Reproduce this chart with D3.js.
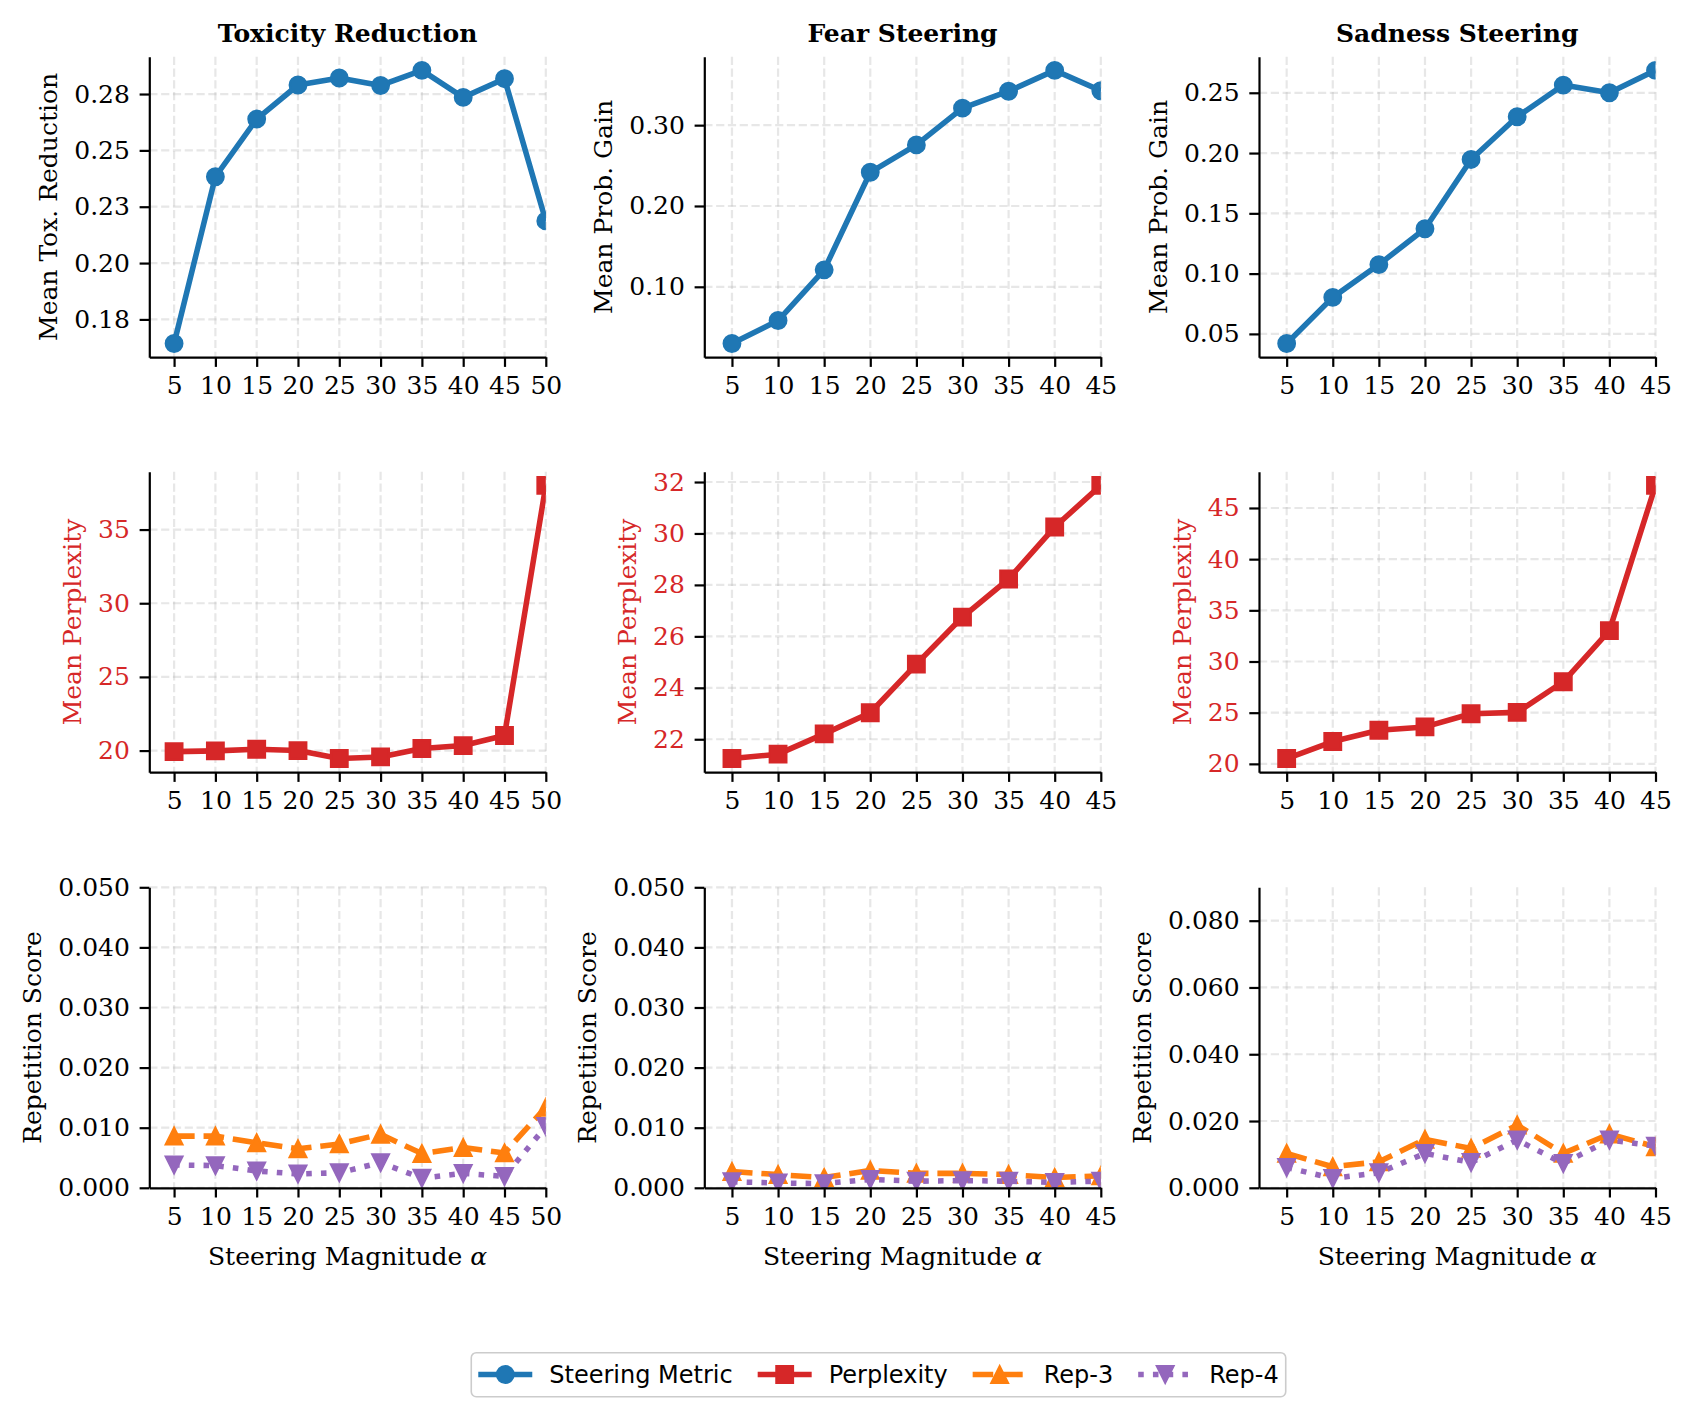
<!DOCTYPE html>
<html>
<head>
<meta charset="utf-8">
<script src="https://cdn.jsdelivr.net/npm/d3@7"></script>
<style>
  body { margin: 0; background: #fff; }
  svg text { font-family: "DejaVu Serif", serif; }
</style>
</head>
<body>
<svg id="fig" width="1694" height="1419"></svg>
<script>
// steering magnitudes
var alphasTox = [5, 10, 15, 20, 25, 30, 35, 40, 45, 50];
var alphasEmo = [5, 10, 15, 20, 25, 30, 35, 40, 45];

// steering metric (row 1)
var toxMetric  = [0.1643, 0.2383, 0.2639, 0.2790, 0.2821, 0.2788, 0.2855, 0.2735, 0.2818, 0.2187];
var fearMetric = [0.0298, 0.0583, 0.1210, 0.2417, 0.2756, 0.3210, 0.3420, 0.3678, 0.3426];
var sadMetric  = [0.0420, 0.0803, 0.1075, 0.1372, 0.1947, 0.2301, 0.2564, 0.2500, 0.2686];

// perplexity (row 2)
var toxPpl  = [19.93, 19.98, 20.09, 20.00, 19.46, 19.57, 20.14, 20.34, 21.02, 38.00];
var fearPpl = [21.25, 21.42, 22.21, 23.03, 24.92, 26.75, 28.23, 30.25, 31.87];
var sadPpl  = [20.52, 22.18, 23.28, 23.61, 24.90, 25.03, 28.02, 33.02, 47.21];

// repetition (row 3)
var toxRep3  = [0.0086, 0.0086, 0.0075, 0.0065, 0.0073, 0.0089, 0.0057, 0.0067, 0.0058, 0.0134];
var toxRep4  = [0.0038, 0.0037, 0.0028, 0.0023, 0.0025, 0.0042, 0.0016, 0.0024, 0.0019, 0.0102];
var fearRep3 = [0.0027, 0.0022, 0.0017, 0.0029, 0.0024, 0.0024, 0.0022, 0.0017, 0.0020];
var fearRep4 = [0.0010, 0.0008, 0.0007, 0.0014, 0.0011, 0.0012, 0.0011, 0.0009, 0.0011];
var sadRep3  = [0.0103, 0.0063, 0.0078, 0.0145, 0.0118, 0.0188, 0.0103, 0.0161, 0.0123];
var sadRep4  = [0.0061, 0.0028, 0.0045, 0.0103, 0.0076, 0.0143, 0.0073, 0.0143, 0.0125];

// y ticks and labels
var toxMetricTicks  = [0.175, 0.2, 0.225, 0.25, 0.275];
var toxMetricLabels = ["0.18", "0.20", "0.23", "0.25", "0.28"];
var fearMetricTicks = [0.1, 0.2, 0.3];
var sadMetricTicks  = [0.05, 0.1, 0.15, 0.2, 0.25];
var toxPplTicks  = [20, 25, 30, 35];
var fearPplTicks = [22, 24, 26, 28, 30, 32];
var sadPplTicks  = [20, 25, 30, 35, 40, 45];
var repTicks    = [0, 0.01, 0.02, 0.03, 0.04, 0.05];
var sadRepTicks = [0, 0.02, 0.04, 0.06, 0.08];
var repLimits    = [0, 0.05];
var sadRepLimits = [0, 0.09];

var titles = ["Toxicity Reduction", "Fear Steering", "Sadness Steering"];
var legendNames = ["Steering Metric", "Perplexity", "Rep-3", "Rep-4"];

var C = {metric: "#1f77b4", ppl: "#d62728", rep3: "#ff7f0e", rep4: "#9467bd"};

var svg = d3.select("svg#fig");
var colLeft = [149.3, 704.3, 1259.0],
    rowTop = [56.7, 471.7, 887.3],
    AW = 396.5, AH = 300.5,
    tickLen = 9.7, tickPad = 9.7, fs = 25, lw = 5.56, ms = 8.33, mew = 2.2, spineW = 2.2;

function pad(vals) {
    var lo = d3.min(vals), hi = d3.max(vals), m = (hi - lo) * 0.05;
    return [lo - m, hi + m];
}

function markerPath(kind, s) {
    if (kind === "^") return "M0," + (-s) + "L" + s + "," + s + "L" + (-s) + "," + s + "Z";
    if (kind === "v") return "M0," + s + "L" + s + "," + (-s) + "L" + (-s) + "," + (-s) + "Z";
    if (kind === "s") return "M" + (-s) + "," + (-s) + "H" + s + "V" + s + "H" + (-s) + "Z";
    return d3.symbol(d3.symbolCircle, Math.PI * s * s)();
}

var styles = {
    metric: {color: C.metric, marker: "o", dash: null},
    ppl: {color: C.ppl, marker: "s", dash: null},
    rep3: {color: C.rep3, marker: "^", dash: (3.7 * lw) + "," + (1.6 * lw)},
    rep4: {color: C.rep4, marker: "v", dash: (1 * lw) + "," + (1.65 * lw)}
};

var clipId = 0;
function panel(p) {
    var g = svg.append("g").attr("transform", "translate(" + p.left + "," + p.top + ")");
    var x = d3.scaleLinear().domain([2, d3.max(p.alphas)]).range([0, AW]);
    var y = d3.scaleLinear().domain(p.ydomain).range([AH, 0]);

    // grid
    var grid = g.append("g").attr("stroke", "#b0b0b0").attr("stroke-opacity", 0.3)
        .attr("stroke-width", 2.2).attr("stroke-dasharray", "8.2,3.6");
    grid.selectAll("line.vx").data(p.alphas).join("line").attr("class", "vx")
        .attr("x1", function (d) { return x(d); }).attr("x2", function (d) { return x(d); })
        .attr("y1", 0).attr("y2", AH);
    grid.selectAll("line.hy").data(p.yticks).join("line").attr("class", "hy")
        .attr("y1", function (d) { return y(d); }).attr("y2", function (d) { return y(d); })
        .attr("x1", 0).attr("x2", AW);

    // data
    clipId++;
    g.append("clipPath").attr("id", "clip" + clipId).append("rect")
        .attr("x", 0).attr("y", 0).attr("width", AW).attr("height", AH);
    var plot = g.append("g").attr("clip-path", "url(#clip" + clipId + ")");

    p.series.forEach(function (s) {
        var st = styles[s.kind];
        var pts = p.alphas.map(function (a, i) { return [a, s.values[i]]; });
        var line = d3.line().x(function (d) { return x(d[0]); }).y(function (d) { return y(d[1]); });
        plot.append("path").attr("d", line(pts)).attr("fill", "none")
            .attr("stroke", st.color).attr("stroke-width", lw)
            .attr("stroke-linejoin", "round")
            .attr("stroke-dasharray", st.dash);
        plot.selectAll(null).data(pts).join("path")
            .attr("transform", function (d) { return "translate(" + x(d[0]) + "," + y(d[1]) + ")"; })
            .attr("d", markerPath(st.marker, ms))
            .attr("fill", st.color).attr("stroke", st.color).attr("stroke-width", mew);
    });

    // axes
    var xAxis = d3.axisBottom(x).tickValues(p.alphas).tickFormat(d3.format("d"))
        .tickSizeInner(tickLen).tickSizeOuter(0).tickPadding(tickPad);
    var yAxis = d3.axisLeft(y).tickValues(p.yticks)
        .tickFormat(function (d, i) { return p.ylabels ? p.ylabels[i] : p.yfmt(d); })
        .tickSizeInner(tickLen).tickSizeOuter(0).tickPadding(tickPad);

    var gx = g.append("g").attr("transform", "translate(0," + AH + ")").call(xAxis);
    var gy = g.append("g").call(yAxis);
    [gx, gy].forEach(function (a) {
        a.attr("font-family", null).attr("font-size", null);
        a.selectAll("path.domain").attr("stroke", "#000").attr("stroke-width", spineW);
        a.selectAll(".tick line").attr("stroke", "#000").attr("stroke-width", spineW);
        a.selectAll(".tick text").style("font-size", fs + "px").attr("fill", "#000");
    });
    gy.selectAll(".tick text").attr("fill", p.tickColor);

    var maxW = 0;
    gy.selectAll(".tick text").each(function () {
        maxW = Math.max(maxW, this.getComputedTextLength());
    });
    var lx = -(tickLen + tickPad + maxW + 11 + 14.5);
    g.append("text").attr("transform", "translate(" + lx + "," + (AH / 2) + ") rotate(-90)")
        .attr("text-anchor", "middle").attr("dominant-baseline", "central")
        .style("font-size", fs + "px").attr("fill", p.labelColor).text(p.ylabel);

    if (p.title) {
        g.append("text").attr("x", AW / 2).attr("y", -15).attr("text-anchor", "middle")
            .style("font-size", fs + "px").style("font-weight", "bold").text(p.title);
    }
    if (p.xlabel) {
        var t = g.append("text").attr("x", AW / 2).attr("y", AH + 77).attr("text-anchor", "middle")
            .style("font-size", fs + "px");
        t.append("tspan").text("Steering Magnitude ");
        t.append("tspan").style("font-style", "italic").text("\u03b1");
    }
}

var f2 = d3.format(".2f"), f3 = d3.format(".3f"), f0 = d3.format("d");
var cols = [
    {alphas: alphasTox, metric: toxMetric, mTicks: toxMetricTicks, mLabels: toxMetricLabels, mLabel: "Mean Tox. Reduction",
     ppl: toxPpl, pTicks: toxPplTicks, rep3: toxRep3, rep4: toxRep4, rTicks: repTicks, rLim: repLimits},
    {alphas: alphasEmo, metric: fearMetric, mTicks: fearMetricTicks, mLabels: null, mLabel: "Mean Prob. Gain",
     ppl: fearPpl, pTicks: fearPplTicks, rep3: fearRep3, rep4: fearRep4, rTicks: repTicks, rLim: repLimits},
    {alphas: alphasEmo, metric: sadMetric, mTicks: sadMetricTicks, mLabels: null, mLabel: "Mean Prob. Gain",
     ppl: sadPpl, pTicks: sadPplTicks, rep3: sadRep3, rep4: sadRep4, rTicks: sadRepTicks, rLim: sadRepLimits}
];

cols.forEach(function (c, j) {
    panel({left: colLeft[j], top: rowTop[0], alphas: c.alphas, ydomain: pad(c.metric),
        yticks: c.mTicks, ylabels: c.mLabels, yfmt: f2, ylabel: c.mLabel, title: titles[j],
        tickColor: "#000", labelColor: "#000",
        series: [{kind: "metric", values: c.metric}]});
    panel({left: colLeft[j], top: rowTop[1], alphas: c.alphas, ydomain: pad(c.ppl),
        yticks: c.pTicks, yfmt: f0, ylabel: "Mean Perplexity",
        tickColor: C.ppl, labelColor: C.ppl,
        series: [{kind: "ppl", values: c.ppl}]});
    panel({left: colLeft[j], top: rowTop[2], alphas: c.alphas, ydomain: c.rLim,
        yticks: c.rTicks, yfmt: f3, ylabel: "Repetition Score", xlabel: true,
        tickColor: "#000", labelColor: "#000",
        series: [{kind: "rep3", values: c.rep3}, {kind: "rep4", values: c.rep4}]});
});

// legend
var kinds = ["metric", "ppl", "rep3", "rep4"];
var leg = svg.append("g");
var box = leg.append("rect");
var items = leg.append("g");
var handleLen = 54, textGap = 17, colGap = 25, padX = 7, legFs = 24;
var cx = 0, legCy = 1374.5;
kinds.forEach(function (k, i) {
    var st = styles[k];
    var it = items.append("g").attr("transform", "translate(" + cx + ",0)");
    it.append("line").attr("x1", 0).attr("x2", handleLen).attr("y1", 0).attr("y2", 0)
        .attr("stroke", st.color).attr("stroke-width", lw).attr("stroke-dasharray", st.dash);
    it.append("path").attr("transform", "translate(" + (handleLen / 2) + ",0)")
        .attr("d", markerPath(st.marker, ms)).attr("fill", st.color)
        .attr("stroke", st.color).attr("stroke-width", mew);
    var t = it.append("text").attr("x", handleLen + textGap).attr("y", 0)
        .attr("dominant-baseline", "central")
        .style("font-family", "'DejaVu Sans', sans-serif").style("font-size", legFs + "px")
        .text(legendNames[i]);
    cx += handleLen + textGap + t.node().getComputedTextLength() + colGap;
});
var totalW = cx - colGap + 2 * padX;
var boxLeft = 878.5 - totalW / 2;
items.attr("transform", "translate(" + (boxLeft + padX) + "," + legCy + ")");
box.attr("x", boxLeft).attr("y", 1352.7).attr("width", totalW).attr("height", 44)
    .attr("rx", 5).attr("fill", "#fff").attr("stroke", "#cccccc").attr("stroke-width", 1.6);
</script>
</body>
</html>
